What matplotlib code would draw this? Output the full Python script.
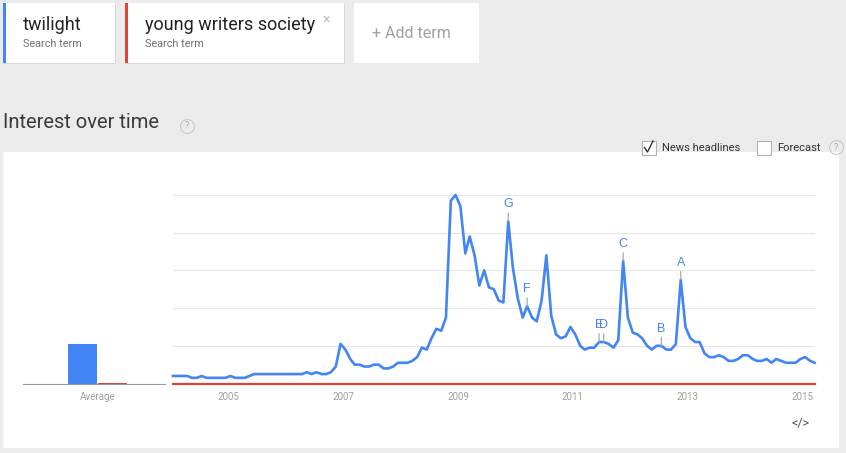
import matplotlib
matplotlib.use("Agg")
import matplotlib.pyplot as plt
import pandas as pd
from matplotlib.patches import Rectangle
from matplotlib.lines import Line2D

plt.rcParams["font.family"] = ["Roboto", "DejaVu Sans"]

# monatliche Werte Jan 2004 .. Mar 2015
twilight = [
    4, 4, 4, 4, 3, 3, 4, 3, 3, 3, 3, 3,               # 2004
    4, 3, 3, 3, 4, 5, 5, 5, 5, 5, 5, 5,               # 2005
    5, 5, 5, 5, 6, 5, 6, 5, 5, 6, 9, 21,              # 2006
    18, 13, 10, 10, 9, 9, 10, 10, 8, 8, 9, 11,        # 2007
    11, 11, 12, 14, 19, 18, 24, 29, 28, 35, 97, 100,  # 2008
    94, 69, 78, 68, 52, 60, 51, 50, 44, 43, 86, 61,   # 2009
    45, 35, 41, 35, 33, 44, 68, 36, 26, 24, 25, 30,   # 2010
    26, 20, 18, 19, 19, 22, 22, 21, 19, 23, 65, 35,   # 2011
    27, 26, 24, 20, 18, 20, 20, 18, 18, 21, 55, 30,   # 2012
    24, 22, 22, 16, 14, 14, 15, 14, 12, 12, 13, 15,   # 2013
    15, 13, 12, 12, 13, 11, 13, 12, 11, 11, 11, 13,   # 2014
    14, 12, 11,                                       # 2015
]
young_writers = [
    0, 0, 0, 0, 0, 0, 0, 0, 0, 0, 0, 0,
    0, 0, 0, 0, 0, 0, 0, 0, 0, 0, 0, 0,
    0, 0, 0, 0, 0, 0, 0, 0, 0, 0, 0, 0,
    0, 0, 0, 0, 0, 0, 0, 0, 0, 0, 0, 0,
    0, 0, 0, 0, 0, 0, 0, 0, 0, 0, 0, 0,
    0, 0, 0, 0, 0, 0, 0, 0, 0, 0, 0, 0,
    0, 0, 0, 0, 0, 0, 0, 0, 0, 0, 0, 0,
    0, 0, 0, 0, 0, 0, 0, 0, 0, 0, 0, 0,
    0, 0, 0, 0, 0, 0, 0, 0, 0, 0, 0, 0,
    0, 0, 0, 0, 0, 0, 0, 0, 0, 0, 0, 0,
    0, 0, 0, 0, 0, 0, 0, 0, 0, 0, 0, 0,
    0, 0, 0,
]
average = [21, 0.4]
terms = ["twilight", "young writers society"]
news = [("G", "2009-11"), ("F", "2010-03"), ("E", "2011-06"), ("D", "2011-07"),
        ("C", "2011-11"), ("B", "2012-07"), ("A", "2012-11")]
year_ticks = [2005, 2007, 2009, 2011, 2013, 2015]

BLUE = "#4285f4"
RED = "#db4437"
W, H = 846, 453

months = pd.date_range("2004-01-01", periods=len(twilight), freq="MS") + pd.Timedelta(days=15)
month_keys = list(months.strftime("%Y-%m"))


def fx(x):
    return x / W


def fy(y):
    return 1 - y / H


def box(fig, x0, y0, x1, y1, color, z=-2):
    fig.patches.append(Rectangle((fx(x0), fy(y1)), (x1 - x0) / W, (y1 - y0) / H,
                                 transform=fig.transFigure, color=color, zorder=z, lw=0))


def frage(fig, x, y):
    fig.add_artist(Line2D([fx(x)], [fy(y)], marker="o", ms=10, mfc="none", mec="#c9c9c9",
                          mew=0.8, transform=fig.transFigure))
    fig.text(fx(x), fy(y), "?", size=6.5, color="#aaaaaa", ha="center", va="center")


fig = plt.figure(figsize=(W / 100, H / 100), dpi=100, facecolor="#ebebeb")

# -- Suchbegriffe oben ---------------------------------------------------
box(fig, 3, 4, 116, 64, "#d8d8d8", z=-3)
box(fig, 3, 3, 115, 63, "white")
box(fig, 3, 3, 6, 63, BLUE, z=-1)
box(fig, 125, 4, 345, 64, "#d8d8d8", z=-3)
box(fig, 125, 3, 344, 63, "white")
box(fig, 125, 3, 128, 63, RED, z=-1)
box(fig, 354, 3, 479, 63, "white")
fig.text(fx(23), fy(30), terms[0], size=13, color="#222222", va="baseline")
fig.text(fx(23), fy(47), "Search term", size=7.8, color="#707070", va="baseline")
fig.text(fx(145), fy(30), terms[1], size=13, color="#222222", va="baseline")
fig.text(fx(145), fy(47), "Search term", size=7.8, color="#707070", va="baseline")
fig.text(fx(326), fy(19), "×", size=10, color="#c0c0c0", ha="center", va="center")
fig.text(fx(411), fy(33), "+ Add term", size=11.5, color="#a0a0a0", ha="center", va="center")

# -- Ueberschrift und Optionen -------------------------------------------
fig.text(fx(3), fy(123), "Interest over time", size=14.5, color="#3a3a3a", va="center")
frage(fig, 187, 126)
fig.add_artist(Line2D([fx(648.5)], [fy(148)], marker="s", ms=9.5, mfc="white", mec="#b0b0b0",
                      mew=0.8, transform=fig.transFigure))
fig.add_artist(Line2D([fx(644.5), fx(647.5), fx(653)], [fy(147.5), fy(152), fy(141)],
                      color="#333333", lw=1.0, transform=fig.transFigure))
fig.text(fx(662), fy(148), "News headlines", size=8, color="#333333", va="center")
fig.add_artist(Line2D([fx(763.5)], [fy(148)], marker="s", ms=9.5, mfc="white", mec="#b0b0b0",
                      mew=0.8, transform=fig.transFigure))
fig.text(fx(777), fy(148), "Forecast", size=8, color="#333333", va="center")
frage(fig, 836, 147)

# -- Diagrammkarte -------------------------------------------------------
box(fig, 3, 152, 839, 448, "white")

av = fig.add_axes([fx(23), fy(383.5), (165 - 23) / W, (383.5 - 195) / H])
av.set_facecolor("none")
av.bar([0, 1], average, width=0.97, color=[BLUE, RED])
av.set_xlim(-1.98, 2.75)
av.set_ylim(0, 100)
for s in ["top", "left", "right"]:
    av.spines[s].set_visible(False)
av.spines["bottom"].set_color("#9a9a9a")
av.spines["bottom"].set_linewidth(0.8)
av.set_yticks([])
av.set_xticks([0.5])
av.set_xticklabels(["Average"])
av.tick_params(axis="x", length=0, pad=6, labelsize=7, labelcolor="#9e9e9e")

ax = fig.add_axes([fx(172.9), fy(383.5), (814.5 - 172.9) / W, (383.5 - 195) / H])
ax.set_facecolor("none")
ax.plot(months, young_writers, color=RED, lw=1.6, clip_on=False, zorder=2)
ax.plot(months, twilight, color=BLUE, lw=1.9, clip_on=False, zorder=3)
ax.set_xlim(months[0], months[-1])
ax.set_ylim(0, 100)
ax.set_yticks([20, 40, 60, 80, 100])
ax.yaxis.grid(True, color="#e6e6e6", lw=0.8)
ax.set_axisbelow(True)
ax.tick_params(axis="y", length=0, labelleft=False)
ax.set_xticks([pd.Timestamp(f"{j}-01-01") for j in year_ticks])
ax.set_xticklabels([str(j) for j in year_ticks])
ax.tick_params(axis="x", length=0, pad=6, labelsize=7, labelcolor="#9e9e9e")
for s in ax.spines.values():
    s.set_visible(False)

for buchstabe, monat in news:
    i = month_keys.index(monat)
    ax.annotate(buchstabe, (months[i], twilight[i]), xytext=(0, 11),
                textcoords="offset pixels", ha="center", va="bottom",
                fontsize=9, color=BLUE, family=["Liberation Sans"],
                arrowprops=dict(arrowstyle="-", color="#a8a8a8", lw=0.9,
                                shrinkA=0, shrinkB=0), zorder=4)

fig.text(fx(801), fy(424), "</>", size=9, color="#555555", ha="center", va="center")

fig.savefig("out.png", dpi=100, facecolor=fig.get_facecolor())
